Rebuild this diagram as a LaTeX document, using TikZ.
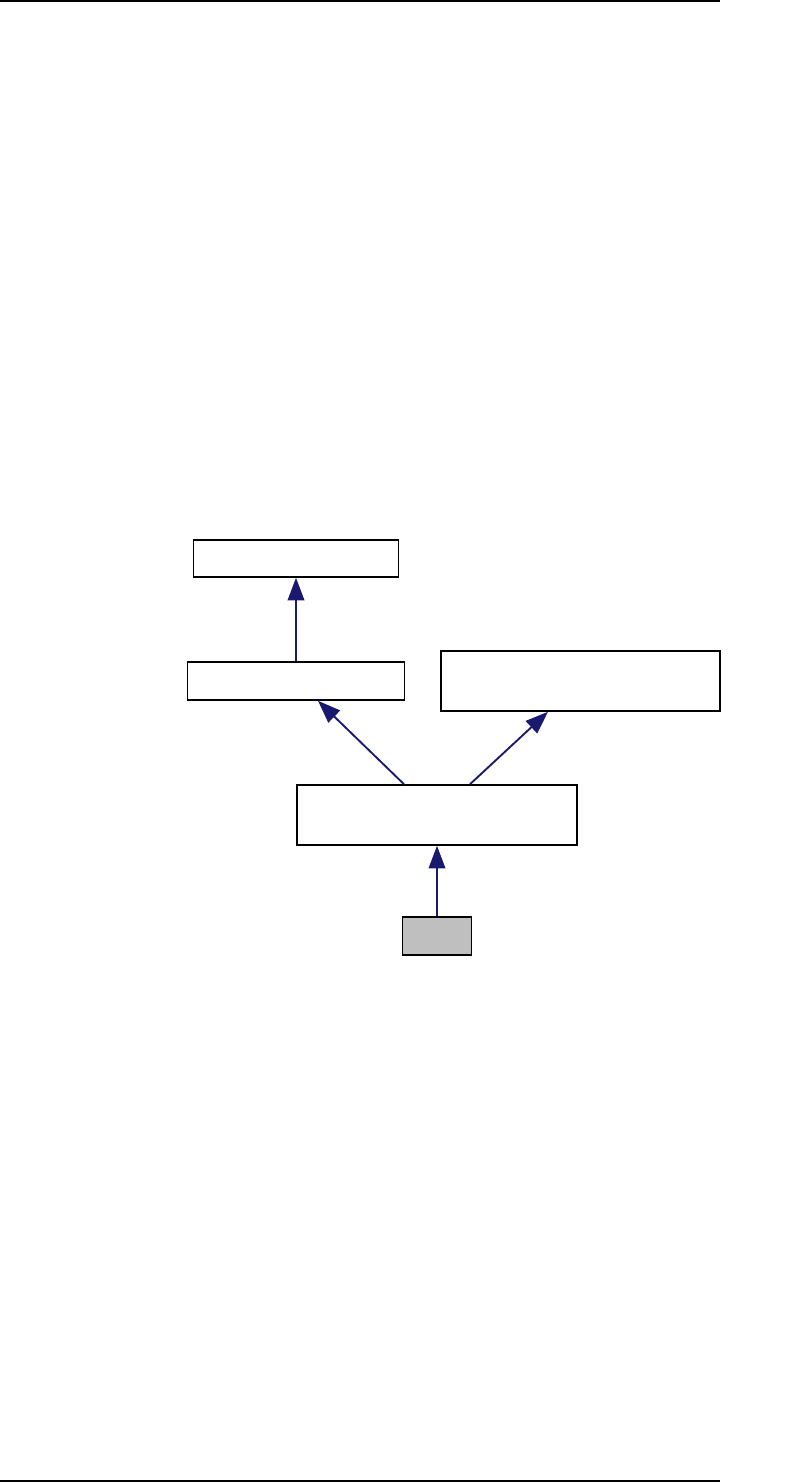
\documentclass[tikz,border=0pt]{standalone}
\usepackage{xcolor}
\definecolor{edgenavy}{HTML}{191970}
\definecolor{curgray}{HTML}{BFBFBF}
\usepackage{tikz}
\usetikzlibrary{arrows.meta, positioning}
\tikzset{
  classbox/.style={draw=black, line width=1.2pt, fill=white, inner sep=0pt},
  currentbox/.style={classbox, fill=curgray},
  inherit/.style={draw=edgenavy, line width=1.4pt,
    -{Triangle[length=17pt, width=12.5pt]}},
}

\begin{document}
\begin{tikzpicture}[x=0.75pt, y=-0.75pt]
  \useasboundingbox (0,0) rectangle (803,1483);

  % page rules
  \draw[line width=1.1pt] (0,1) -- (720,1);
  \draw[line width=1.1pt] (0,1481) -- (720,1481);

  % classes
  \node[classbox, minimum width=153.75pt, minimum height=27.75pt] (base) at (296,558.5) {};
  \node[classbox, minimum width=162.75pt, minimum height=28.5pt] (parent) at (296,681) {};
  \node[classbox, minimum width=209.25pt, minimum height=45pt] (iface) at (580.5,681) {};
  \node[classbox, minimum width=210pt, minimum height=45pt] (klass) at (437,815) {};
  \node[currentbox, minimum width=51.75pt, minimum height=28.5pt] (leaf) at (437,936) {};

  % inheritance edges
  \draw[inherit] (parent.north) -- (base.south);
  \draw[inherit] ([xshift=-24.75pt]klass.north) -- ([xshift=16.5pt]parent.south);
  \draw[inherit] ([xshift=24.75pt]klass.north) -- ([xshift=-24.4pt]iface.south);
  \draw[inherit] (leaf.north) -- (klass.south);
\end{tikzpicture}
\end{document}
